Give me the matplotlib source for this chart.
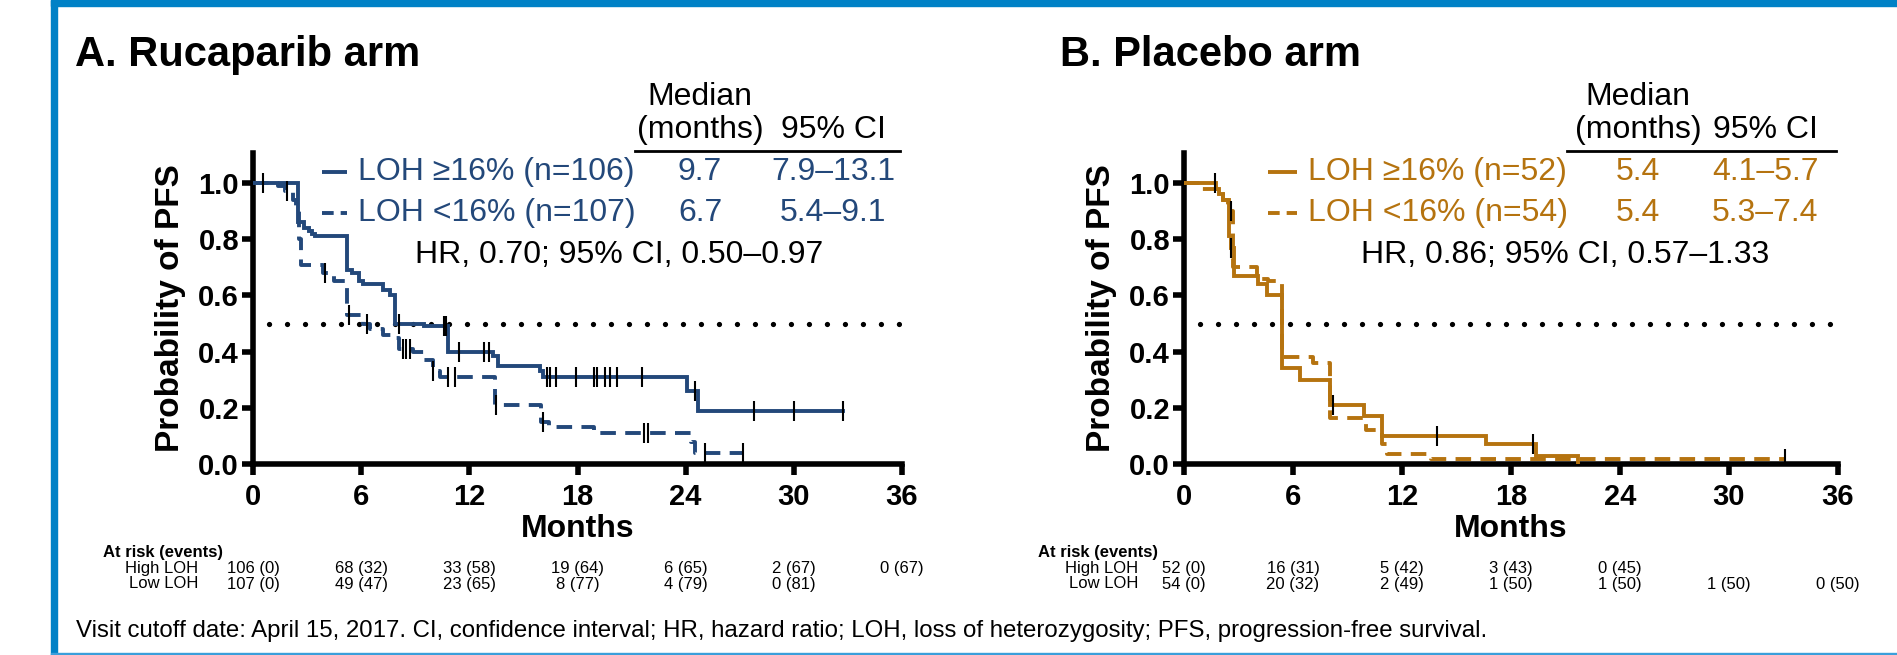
"""
PFS by LOH status, rucaparib vs placebo arms (Kaplan-Meier style steps).
"""

import numpy as np
import matplotlib
matplotlib.use("Agg")
import matplotlib.pyplot as plt
from matplotlib.patches import Rectangle
from matplotlib.transforms import blended_transform_factory

plt.rcParams["font.family"] = ["Liberation Sans", "DejaVu Sans"]

NAVY = "#23487A"
ORANGE = "#B5730F"
FRAME_BLUE = "#0081C6"

# ---- Rucaparib arm ----
ruca_high_t = [0, 2.5, 2.85, 3.1, 3.3, 3.45, 5.2, 5.5, 5.9, 6.1, 7.2, 7.6, 7.9, 9.5, 10.8, 13.3, 13.6, 15.9, 16.1, 24.1, 24.7]
ruca_high_s = [1.0, 0.86, 0.84, 0.83, 0.82, 0.81, 0.69, 0.68, 0.65, 0.64, 0.62, 0.60, 0.50, 0.49, 0.40, 0.385, 0.35, 0.33, 0.31, 0.26, 0.19]
ruca_high_end = 32.7
ruca_high_cens = [0.56, 8.1, 10.6, 10.7, 11.4, 12.8, 13.1, 16.3, 16.5, 16.8, 17.9, 18.9, 19.1, 19.5, 19.8, 20.2, 21.6, 24.5, 27.8, 30.0, 32.7]

ruca_low_t = [0, 1.4, 1.8, 2.2, 2.4, 2.55, 2.65, 3.9, 4.5, 5.2, 6.1, 6.5, 7.2, 7.8, 8.1, 8.9, 9.5, 10.0, 10.4, 13.4, 16.0, 16.4, 18.9, 24.3, 24.5]
ruca_low_s = [1.0, 0.99, 0.97, 0.94, 0.91, 0.80, 0.71, 0.68, 0.65, 0.53, 0.50, 0.48, 0.46, 0.45, 0.41, 0.40, 0.37, 0.33, 0.31, 0.21, 0.15, 0.13, 0.11, 0.08, 0.04]
ruca_low_end = 27.2
ruca_low_cens = [1.9, 4.0, 5.3, 6.3, 8.3, 8.5, 8.7, 10.0, 10.8, 11.2, 13.5, 16.1, 21.7, 21.9, 25.1, 27.2]

# ---- Placebo arm ----
plac_high_t = [0, 1.75, 1.95, 2.15, 2.5, 2.6, 2.75, 4.05, 4.55, 5.4, 6.4, 8.05, 9.9, 10.9, 16.6, 19.4, 21.7]
plac_high_s = [1.0, 0.98, 0.96, 0.94, 0.81, 0.77, 0.67, 0.64, 0.60, 0.34, 0.30, 0.21, 0.17, 0.10, 0.07, 0.03, 0.0]
plac_high_end = 21.7
plac_high_cens = [1.7, 2.6, 8.2, 13.9, 19.2]

plac_low_t = [0, 0.9, 1.8, 2.15, 2.4, 2.7, 4.0, 4.6, 5.4, 7.1, 8.05, 10.0, 10.9, 11.2, 13.6]
plac_low_s = [1.0, 0.98, 0.96, 0.94, 0.90, 0.70, 0.66, 0.65, 0.38, 0.36, 0.165, 0.12, 0.07, 0.037, 0.019]
plac_low_end = 33.1
plac_low_cens = [2.6, 33.1]

# ---- text content ----
titles = ["A. Rucaparib arm", "B. Placebo arm"]
ruca_labels = ["LOH \u226516% (n=106)", "LOH <16% (n=107)"]
ruca_medians = ["9.7", "6.7"]
ruca_cis = ["7.9\u201313.1", "5.4\u20139.1"]
ruca_hr = "HR, 0.70; 95% CI, 0.50\u20130.97"
plac_labels = ["LOH \u226516% (n=52)", "LOH <16% (n=54)"]
plac_medians = ["5.4", "5.4"]
plac_cis = ["4.1\u20135.7", "5.3\u20137.4"]
plac_hr = "HR, 0.86; 95% CI, 0.57\u20131.33"

risk_months = [0, 6, 12, 18, 24, 30, 36]
ruca_risk_high = ["106 (0)", "68 (32)", "33 (58)", "19 (64)", "6 (65)", "2 (67)", "0 (67)"]
ruca_risk_low = ["107 (0)", "49 (47)", "23 (65)", "8 (77)", "4 (79)", "0 (81)"]
plac_risk_high = ["52 (0)", "16 (31)", "5 (42)", "3 (43)", "0 (45)"]
plac_risk_low = ["54 (0)", "20 (32)", "2 (49)", "1 (50)", "1 (50)", "1 (50)", "0 (50)"]

footnote = ("Visit cutoff date: April 15, 2017. CI, confidence interval; HR, hazard ratio; "
            "LOH, loss of heterozygosity; PFS, progression-free survival.")

W, H = 1897, 655
DASH = (4.0, 2.4)
LW = 2.8


def fx(px):
    return px / W


def fy(py):
    return 1 - py / H


def draw_km(ax, t, s, t_end, cens, color, dashed):
    tt = list(t) + [t_end]
    ss = list(s) + [s[-1]]
    kw = dict(color=color, lw=LW, solid_joinstyle="miter", zorder=3)
    if dashed:
        kw["dashes"] = DASH
    ax.step(tt, ss, where="post", **kw)
    idx = np.searchsorted(np.array(t), np.array(cens), side="right") - 1
    cs = np.array(s)[idx]
    ax.plot(cens, cs, ls="none", marker="|", ms=14, mew=1.5, color="black", zorder=4)


def style_axes(ax):
    ax.set_xlim(0, 36)
    ax.set_ylim(0, 1.107)
    ax.set_xticks(range(0, 37, 6))
    ax.set_yticks([0, 0.2, 0.4, 0.6, 0.8, 1.0])
    ax.set_yticklabels([f"{v:.1f}" for v in [0, 0.2, 0.4, 0.6, 0.8, 1.0]])
    for side in ["top", "right"]:
        ax.spines[side].set_visible(False)
    for side in ["left", "bottom"]:
        ax.spines[side].set_linewidth(4)
    ax.tick_params(length=8, width=4, labelsize=21)
    ax.tick_params(axis="x", pad=6)
    ax.tick_params(axis="y", pad=2)
    for lab in ax.get_xticklabels() + ax.get_yticklabels():
        lab.set_fontweight("bold")
    ax.set_xlabel("Months", fontsize=23, fontweight="bold", labelpad=2)
    ax.set_ylabel("Probability of PFS", fontsize=24, fontweight="bold", labelpad=9)
    ax.hlines(0.5, 0.9, 36, colors="black", lw=3.8, linestyles=(0, (0.01, 3.4)),
              capstyle="round", zorder=2)


def annotate(ax, color, labels, medians, cis, hr, pos):
    samp_x0, samp_x1, text_x, med_x, ci_x, line_x0, line_x1, hr_x = pos
    rows_y = [1.039, 0.893]
    for i, (lab, med, ci) in enumerate(zip(labels, medians, cis)):
        y = rows_y[i]
        kw = dict(color=color, lw=LW, clip_on=False, solid_capstyle="butt")
        if i == 1:
            kw["dashes"] = (3.0, 1.8)
        ax.plot([samp_x0, samp_x1], [y, y], **kw)
        ax.text(text_x, y, lab, color=color, fontsize=23, va="center", ha="left")
        ax.text(med_x, y, med, color=color, fontsize=23, va="center", ha="center")
        ax.text(ci_x, y, ci, color=color, fontsize=23, va="center", ha="center")
    ax.text(med_x, 1.306, "Median", fontsize=23, va="center", ha="center")
    ax.text(med_x, 1.189, "(months)", fontsize=23, va="center", ha="center")
    ax.text(ci_x, 1.189, "95% CI", fontsize=23, va="center", ha="center")
    ax.plot([line_x0, line_x1], [1.114, 1.114], color="black", lw=2, clip_on=False)
    ax.text(hr_x, 0.744, hr, fontsize=23, va="center", ha="center")


def risk_table(fig, ax, head_x, lab_x, high, low):
    tr = blended_transform_factory(ax.transData, fig.transFigure)
    fig.text(fx(head_x), fy(552), "At risk (events)", fontsize=12, fontweight="bold",
             ha="left", va="center")
    fig.text(fx(lab_x), fy(568), "High LOH", fontsize=12, ha="right", va="center")
    fig.text(fx(lab_x), fy(584), "Low LOH", fontsize=12, ha="right", va="center")
    for m, v in zip(risk_months, high):
        ax.text(m, fy(568), v, transform=tr, fontsize=12, ha="center", va="center")
    for m, v in zip(risk_months, low):
        ax.text(m, fy(584), v, transform=tr, fontsize=12, ha="center", va="center")


fig = plt.figure(figsize=(W / 100, H / 100), dpi=100)

# frame
fig.patches.append(Rectangle((fx(51), fy(6)), 1 - fx(51), 6 / H, transform=fig.transFigure,
                             color=FRAME_BLUE, zorder=0))
fig.patches.append(Rectangle((fx(51), 0), 6 / W, 1, transform=fig.transFigure,
                             color=FRAME_BLUE, zorder=0))
fig.patches.append(Rectangle((fx(51), 0), 1 - fx(51), 2 / H, transform=fig.transFigure,
                             color="#3A9FDB", zorder=0))

ax_a = fig.add_axes([fx(253), fy(464), 649 / W, (464 - 153) / H])
ax_b = fig.add_axes([fx(1184), fy(464), 654 / W, (464 - 153) / H])

for ax in (ax_a, ax_b):
    style_axes(ax)

draw_km(ax_a, ruca_high_t, ruca_high_s, ruca_high_end, ruca_high_cens, NAVY, False)
draw_km(ax_a, ruca_low_t, ruca_low_s, ruca_low_end, ruca_low_cens, NAVY, True)
draw_km(ax_b, plac_high_t, plac_high_s, plac_high_end, plac_high_cens, ORANGE, False)
draw_km(ax_b, plac_low_t, plac_low_s, plac_low_end, plac_low_cens, ORANGE, True)

annotate(ax_a, NAVY, ruca_labels, ruca_medians, ruca_cis, ruca_hr,
         (3.8, 5.2, 5.8, 24.8, 32.2, 21.2, 35.9, 20.3))
annotate(ax_b, ORANGE, plac_labels, plac_medians, plac_cis, plac_hr,
         (4.6, 6.2, 6.8, 25.0, 32.0, 21.1, 35.9, 21.0))

fig.text(fx(75), fy(66), titles[0], fontsize=30, fontweight="bold", va="baseline")
fig.text(fx(1060), fy(66), titles[1], fontsize=30, fontweight="bold", va="baseline")

risk_table(fig, ax_a, 103, 198, ruca_risk_high, ruca_risk_low)
risk_table(fig, ax_b, 1038, 1138, plac_risk_high, plac_risk_low)

fig.text(fx(76), fy(631), footnote, fontsize=17.3, ha="left", va="center")

fig.savefig("out.png", dpi=100)
